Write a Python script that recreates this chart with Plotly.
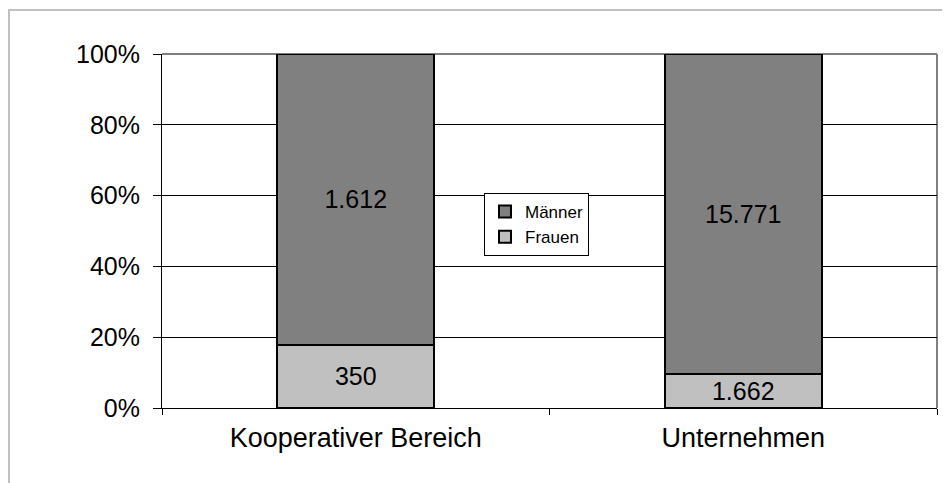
import plotly.graph_objects as go

categories = ["Kooperativer Bereich", "Unternehmen"]
frauen = [350, 1662]
maenner = [1612, 15771]
tick_values = [0, 20, 40, 60, 80, 100]
tick_labels = ["0%", "20%", "40%", "60%", "80%", "100%"]


def de_format(n):
    return f"{n:,}".replace(",", ".")


FONT = "Liberation Sans, Arial, sans-serif"

fig = go.Figure()
fig.add_trace(go.Bar(
    name="Frauen", x=categories, y=frauen,
    text=[de_format(v) for v in frauen],
    marker=dict(color="#c0c0c0", line=dict(color="black", width=2)),
))
fig.add_trace(go.Bar(
    name="Männer", x=categories, y=maenner,
    text=[de_format(v) for v in maenner],
    marker=dict(color="#808080", line=dict(color="black", width=2)),
))
fig.update_traces(
    textposition="inside", insidetextanchor="middle",
    textfont=dict(family=FONT, size=25, color="black"),
    constraintext="none", width=0.405,
)

# the page puts the figure 8px in from the corner; plot area in figure px
W, H = 942, 475
L, R, T, B = 154, 929, 46, 400


def px_x(p):
    return (p - L) / (R - L)


def px_y(p):
    return (B - p) / (B - T)


fig.update_layout(
    width=W, height=H,
    margin=dict(l=L, r=W - R, t=T, b=H - B),
    barmode="stack", barnorm="percent",
    plot_bgcolor="white", paper_bgcolor="white",
    font=dict(family=FONT, color="black"),
    legend=dict(
        x=px_x(476), y=px_y(185), xanchor="left", yanchor="top",
        bgcolor="white", bordercolor="black", borderwidth=1,
        font=dict(family=FONT, size=17, color="black"),
        traceorder="reversed", itemwidth=30, tracegroupgap=0,
    ),
    xaxis=dict(
        showline=True, linecolor="black", linewidth=1,
        ticks="outside", tickson="boundaries", ticklen=6, tickcolor="black",
        tickfont=dict(family=FONT, size=27, color="black"),
        ticklabelstandoff=6, showgrid=False,
    ),
    yaxis=dict(
        range=[0, 100], tickvals=tick_values, ticktext=tick_labels,
        showline=True, linecolor="black", linewidth=1,
        ticks="outside", ticklen=8, tickcolor="black",
        tickfont=dict(family=FONT, size=25, color="black"),
        ticklabelstandoff=8,
        showgrid=True, gridcolor="black", gridwidth=1,
        zeroline=False,
    ),
    shapes=[
        # plot area top and right border (gray)
        dict(type="line", xref="paper", yref="paper", x0=0, x1=1, y0=1, y1=1,
             line=dict(color="#808080", width=2), layer="between"),
        dict(type="line", xref="paper", yref="paper", x0=1, x1=1, y0=0, y1=1,
             line=dict(color="#808080", width=2), layer="between"),
        # outer chart border
        dict(type="rect", xref="paper", yref="paper",
             x0=px_x(1), x1=px_x(960), y0=px_y(2), y1=px_y(500),
             line=dict(color="#c0c0c0", width=2), layer="below"),
    ],
)

fig.write_html("out.html")
